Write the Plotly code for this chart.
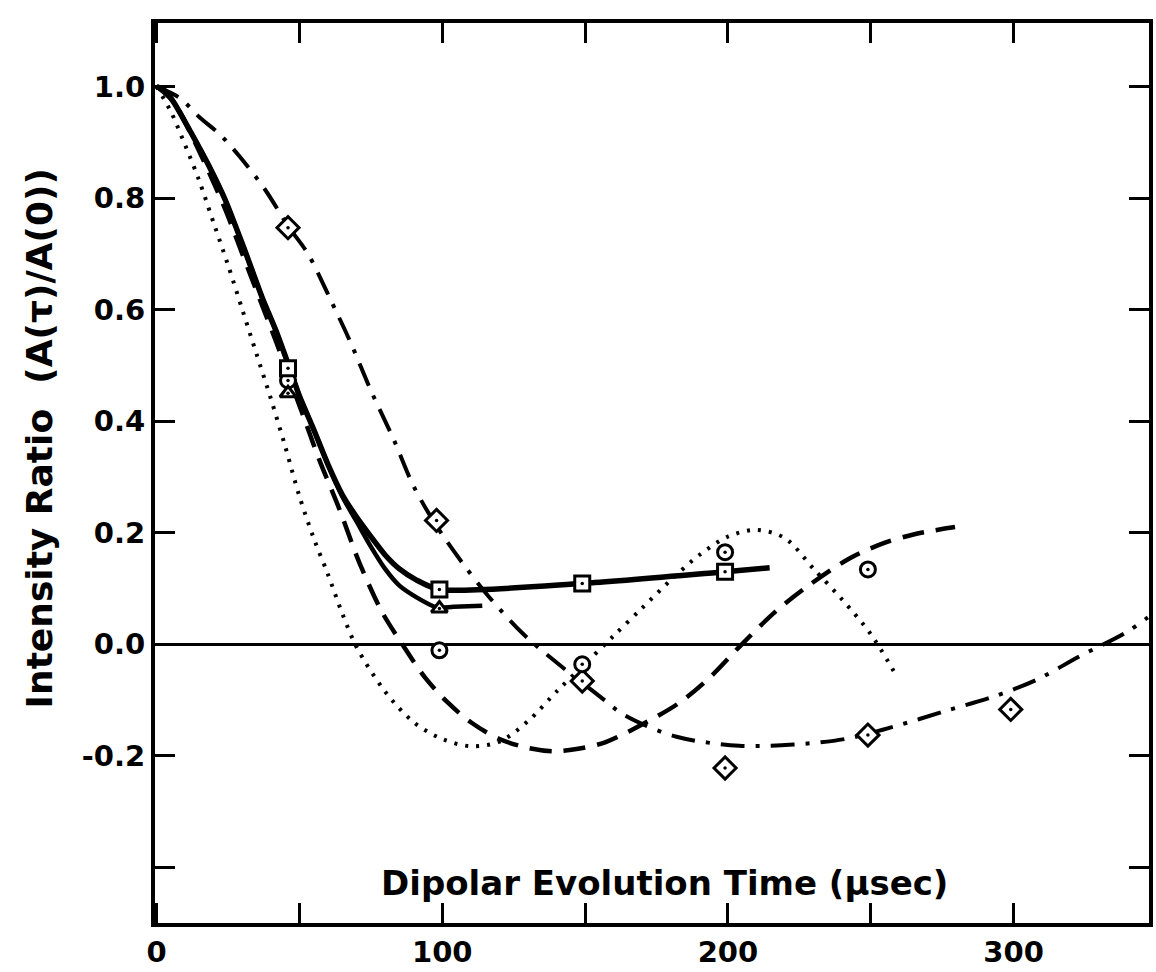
import plotly.graph_objects as go

# ---- data ----
# theory / fit curves
sq_curve_x = [0, 3, 6, 12, 18.3, 24, 30.6, 37, 41.8, 46.5, 50, 55, 60, 65, 70, 75, 80, 85, 91, 99, 149, 199, 214.6]
sq_curve_y = [1.0, 0.992, 0.972, 0.918, 0.858, 0.797, 0.71, 0.621, 0.562, 0.496, 0.445, 0.385, 0.322, 0.268, 0.228, 0.193, 0.160, 0.135, 0.115, 0.098, 0.109, 0.130, 0.137]

tri_curve_x = [0, 3, 6, 12, 18.3, 24, 30.6, 37, 41.8, 46.5, 50, 55, 60, 65, 70, 75, 80, 85, 91, 98, 104, 114]
tri_curve_y = [1.0, 0.992, 0.972, 0.918, 0.858, 0.797, 0.71, 0.621, 0.562, 0.496, 0.445, 0.385, 0.322, 0.265, 0.22, 0.175, 0.135, 0.105, 0.084, 0.066, 0.067, 0.069]

dotted_x = [0, 5, 10, 15, 20, 25, 30, 35, 40, 45, 50, 55, 60, 65, 70, 80, 90, 100, 110, 120, 130, 140, 150, 160, 170, 180, 190, 200, 210, 220, 230, 240, 250, 258]
dotted_y = [1.0, 0.955, 0.895, 0.83, 0.755, 0.68, 0.60, 0.52, 0.44, 0.355, 0.265, 0.19, 0.125, 0.055, -0.005, -0.085, -0.14, -0.17, -0.183, -0.175, -0.138, -0.085, -0.035, 0.015, 0.065, 0.115, 0.16, 0.193, 0.205, 0.19, 0.135, 0.08, 0.018, -0.048]

dashed_x = [0, 6, 12, 18, 24, 30, 36, 42, 47, 52, 57, 64, 71, 79, 86, 94, 102, 110, 120, 130, 139, 147, 157, 171, 183, 194, 204.5, 217, 229, 243, 255, 266, 279.5]
dashed_y = [1.0, 0.972, 0.915, 0.85, 0.78, 0.70, 0.62, 0.54, 0.47, 0.40, 0.33, 0.242, 0.146, 0.057, 0.0, -0.06, -0.105, -0.14, -0.17, -0.186, -0.192, -0.188, -0.176, -0.141, -0.105, -0.058, -0.002, 0.06, 0.108, 0.155, 0.182, 0.198, 0.21]

dashdot_x = [0, 8, 15, 22, 29, 38, 46, 53, 60.7, 68, 75, 83, 90, 98, 107, 116, 128, 141, 155, 164, 182, 204, 223, 241, 258, 276, 293, 308, 323, 339, 347]
dashdot_y = [1.0, 0.98, 0.945, 0.915, 0.875, 0.815, 0.75, 0.70, 0.62, 0.54, 0.455, 0.367, 0.283, 0.212, 0.146, 0.087, 0.02, -0.037, -0.093, -0.128, -0.166, -0.182, -0.18, -0.17, -0.148, -0.12, -0.094, -0.064, -0.022, 0.02, 0.048]

# measured points
squares_x = [46, 99, 149, 199]
squares_y = [0.495, 0.098, 0.109, 0.130]
circles_x = [46, 99, 149, 199, 249]
circles_y = [0.473, -0.011, -0.036, 0.165, 0.134]
triangles_x = [46, 99]
triangles_y = [0.450, 0.064]
diamonds_x = [46, 98, 149, 199, 249, 299]
diamonds_y = [0.747, 0.222, -0.066, -0.222, -0.163, -0.117]

x_ticks = [0, 50, 100, 150, 200, 250, 300]
x_ticktext = ["0", "", "100", "", "200", "", "300"]
y_ticks = [-0.4, -0.2, 0.0, 0.2, 0.4, 0.6, 0.8, 1.0]
y_ticktext = ["", "-0.2", "0.0", "0.2", "0.4", "0.6", "0.8", "1.0"]

x_title = "Dipolar Evolution Time (μsec)"
y_title = "Intensity Ratio  (A(τ)/A(0))"

FONT = "DejaVu Sans"
BLACK = "black"

fig = go.Figure()

def curve(x, y, width, dash, smoothing=0.9):
    fig.add_trace(go.Scatter(x=x, y=y, mode="lines",
                             line=dict(color=BLACK, width=width, dash=dash, shape="spline", smoothing=smoothing),
                             showlegend=False, hoverinfo="skip"))

curve(dotted_x, dotted_y, 4, "3px,8px")
curve(dashed_x, dashed_y, 4.5, "22px,12px")
curve(dashdot_x, dashdot_y, 4, "24px,11px,4px,11px")
curve(tri_curve_x, tri_curve_y, 4.5, "solid", 0.7)
curve(sq_curve_x, sq_curve_y, 5.5, "solid", 0.7)

def pts(x, y, symbol, size):
    fig.add_trace(go.Scatter(x=x, y=y, mode="markers",
                             marker=dict(symbol=symbol, size=size, color="white",
                                         line=dict(color=BLACK, width=3)),
                             showlegend=False, hoverinfo="skip"))
    fig.add_trace(go.Scatter(x=x, y=y, mode="markers",
                             marker=dict(symbol="circle", size=3.5, color=BLACK, line=dict(width=0)),
                             showlegend=False, hoverinfo="skip"))

pts(diamonds_x, diamonds_y, "diamond", 17)
pts(circles_x, circles_y, "circle", 15)
pts(triangles_x, triangles_y, "triangle-up", 14)
pts(squares_x, squares_y, "square", 15)

tick_font = dict(family=FONT, size=29, color=BLACK, weight="bold")

fig.update_layout(
    width=1156, height=972,
    margin=dict(l=155, r=3, t=23, b=42),
    paper_bgcolor="white", plot_bgcolor="white",
    font=dict(family=FONT, color=BLACK, size=29),
    xaxis=dict(range=[-0.56, 347.4], tickmode="array", tickvals=x_ticks, ticktext=x_ticktext,
               ticks="inside", ticklen=20, tickwidth=3, tickcolor=BLACK,
               showline=True, linecolor=BLACK, linewidth=4, mirror="ticks",
               showgrid=False, zeroline=False, tickfont=tick_font),
    yaxis=dict(range=[-0.5, 1.114], tickmode="array", tickvals=y_ticks, ticktext=y_ticktext,
               ticks="inside", ticklen=20, tickwidth=3, tickcolor=BLACK,
               showline=True, linecolor=BLACK, linewidth=4, mirror="ticks",
               showgrid=False, zeroline=True, zerolinecolor=BLACK, zerolinewidth=3,
               tickfont=tick_font),
    annotations=[
        dict(text=x_title, xref="paper", yref="paper", x=0.513, y=0.044,
             xanchor="center", yanchor="middle", showarrow=False,
             font=dict(family=FONT, size=34, color=BLACK, weight="bold")),
        dict(text=y_title, xref="paper", yref="paper", x=-0.1162, y=0.539,
             xanchor="center", yanchor="middle", showarrow=False, textangle=-90,
             font=dict(family=FONT, size=36, color=BLACK, weight="bold")),
    ],
)

fig.write_html("out.html")
